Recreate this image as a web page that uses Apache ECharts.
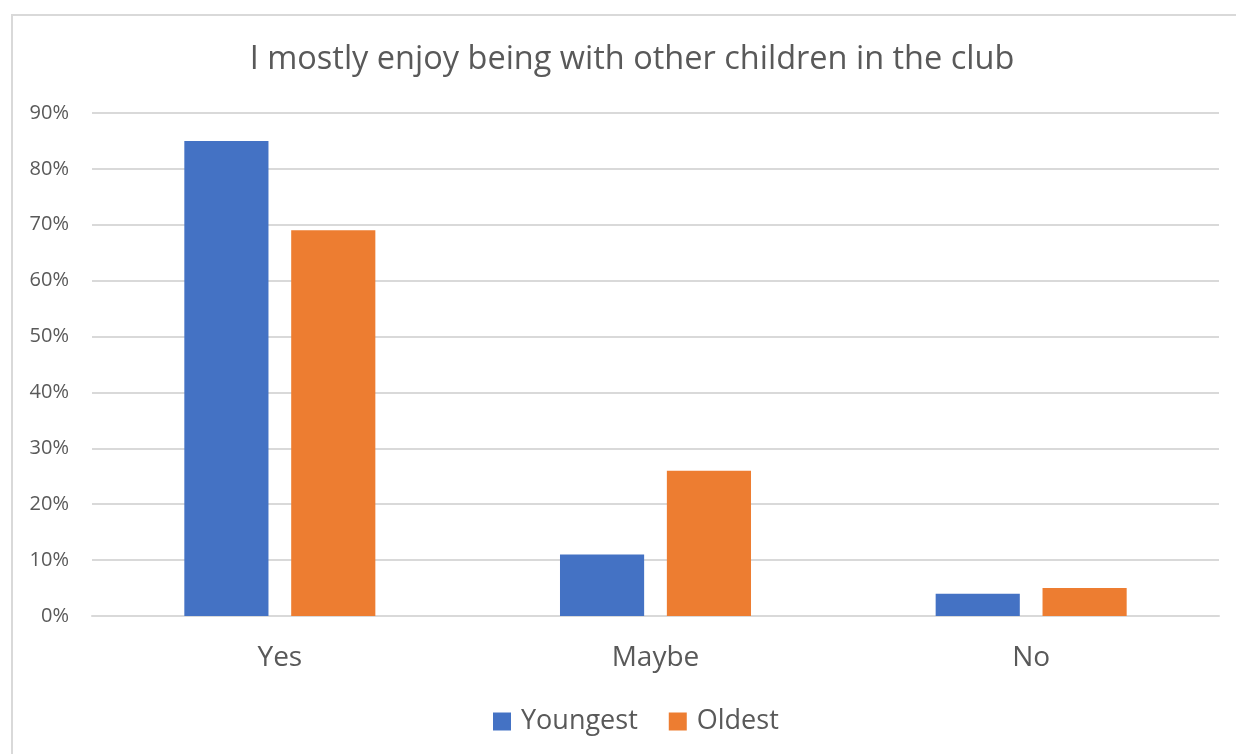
<!DOCTYPE html>
<html>
<head>
<meta charset="utf-8">
<style>
  html, body { margin: 0; padding: 0; overflow: hidden; background: #fff; }
  #frame { position: absolute; left: 11px; top: 14px; width: 1240px; height: 760px; border: 2px solid #d9d9d9; box-sizing: border-box; }
  #chart { position: absolute; left: 0; top: 0; width: 1236px; height: 754px; }
</style>
<script src="https://cdn.jsdelivr.net/npm/echarts@6/dist/echarts.min.js"></script>
</head>
<body>
<div id="frame"></div>
<div id="chart"></div>
<script>
const categories = ['Yes', 'Maybe', 'No']
const youngest = [85, 11, 4]
const oldest = [69, 26, 5]
const yTicks = [0, 10, 20, 30, 40, 50, 60, 70, 80, 90]

const font = '"Open Sans", "Noto Sans", sans-serif'
const chart = echarts.init(document.getElementById('chart'))

chart.setOption({
  animation: false,
  title: {
    text: 'I mostly enjoy being with other children in the club',
    left: 627,
    textAlign: 'center',
    top: 38,
    textStyle: { fontFamily: font, fontSize: 32.5, fontWeight: 'normal', color: '#595959' }
  },
  legend: {
    bottom: 14,
    left: 488,
    itemWidth: 18,
    itemHeight: 18,
    itemGap: 31,
    icon: 'rect',
    textStyle: { fontFamily: font, fontSize: 27, color: '#595959', padding: [0, 0, 0, 5] },
    data: ['Youngest', 'Oldest']
  },
  grid: { left: 92, right: 17, top: 113, bottom: 138, containLabel: false },
  xAxis: {
    type: 'category',
    data: categories,
    axisLine: { lineStyle: { color: '#d9d9d9', width: 2 } },
    axisTick: { show: false },
    axisLabel: { fontFamily: font, fontSize: 28, color: '#595959', margin: 28 }
  },
  yAxis: {
    type: 'value',
    min: yTicks[0],
    max: yTicks[yTicks.length - 1],
    interval: 10,
    axisLine: { show: false },
    axisTick: { show: false },
    splitLine: { lineStyle: { color: '#d9d9d9', width: 2 } },
    axisLabel: { fontFamily: font, fontSize: 20, color: '#595959', margin: 23, formatter: '{value}%' }
  },
  series: [{
    name: 'Youngest',
    type: 'bar',
    data: youngest,
    barWidth: '22.4%',
    barGap: '27%',
    itemStyle: { color: '#4472c4' }
  }, {
    name: 'Oldest',
    type: 'bar',
    data: oldest,
    barWidth: '22.4%',
    itemStyle: { color: '#ed7d31' }
  }]
})
</script>
</body>
</html>
